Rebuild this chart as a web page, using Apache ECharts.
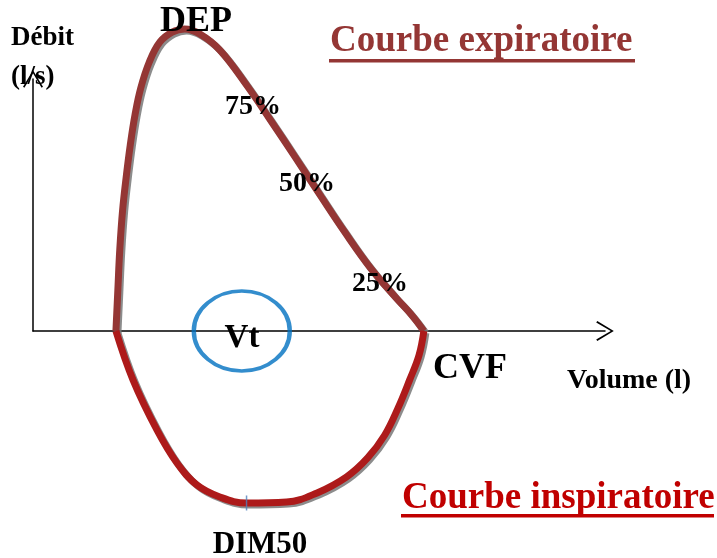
<!DOCTYPE html>
<html>
<head>
<meta charset="utf-8">
<script src="https://cdn.jsdelivr.net/npm/echarts@6/dist/echarts.min.js"></script>
<style>
  html, body { margin: 0; padding: 0; background: #fff; }
  #main { width: 717px; height: 558px; }
</style>
</head>
<body>
<div id="main"></div>
<script>
// courbe débit-volume, valeurs (volume en l, débit en l/s)
var expVolume = [0.87, 0.89, 0.91, 0.94, 0.98, 1.02, 1.07, 1.13, 1.22, 1.33, 1.46, 1.59, 1.75, 1.96, 2.24, 2.49, 2.75, 3.01, 3.27, 3.54, 3.80, 3.98, 4.10];
var expFlow   = [0, 1.30, 2.57, 3.84, 4.95, 5.90, 6.86, 7.71, 8.54, 9.17, 9.49, 9.59, 9.43, 8.92, 7.81, 6.70, 5.52, 4.32, 3.14, 2.00, 1.08, 0.48, 0];

var inspVolume = [0.87, 1.05, 1.30, 1.51, 1.72, 1.96, 2.24, 2.66, 2.98, 3.29, 3.51, 3.69, 3.83, 3.95, 4.05, 4.10];
var inspFlow   = [0, -1.56, -3.14, -4.19, -4.89, -5.27, -5.46, -5.43, -5.14, -4.63, -4.03, -3.30, -2.44, -1.56, -0.76, 0];

var vtPoint = [2.19, 0];
var dim50Point = [2.24, -5.46];

var volumeMax = 6;
var flowMax = 8;

var serif = '"Liberation Serif", "Times New Roman", serif';
var chevron = 'path://M10,0 L20,16.5 L18.6,17.6 L10,3 L1.4,17.6 L0,16.5 Z';

function zip(xs, ys) {
  return xs.map(function (x, i) { return [x, ys[i]]; });
}

function label(text, x, y, size, color, align) {
  return {
    type: 'text',
    z: 100,
    style: {
      text: text,
      x: x,
      y: y,
      font: 'bold ' + size + 'px ' + serif,
      fill: color || '#000',
      align: align || 'left',
      verticalAlign: 'middle'
    }
  };
}

var chart = echarts.init(document.getElementById('main'));
chart.setOption({
  animation: false,
  grid: { left: 33, top: 79, right: 112, bottom: 227 },
  xAxis: {
    type: 'value',
    min: 0,
    max: volumeMax,
    axisLine: {
      show: true,
      symbol: ['none', chevron],
      symbolSize: [20, 18],
      lineStyle: { color: '#000', width: 1.5 }
    },
    axisTick: { show: false },
    axisLabel: { show: false },
    splitLine: { show: false }
  },
  yAxis: {
    type: 'value',
    min: 0,
    max: flowMax,
    axisLine: {
      show: true,
      symbol: ['none', chevron],
      symbolSize: [20, 18],
      lineStyle: { color: '#000', width: 1.5 }
    },
    axisTick: { show: false },
    axisLabel: { show: false },
    splitLine: { show: false }
  },
  series: [
    {
      name: 'Courbe expiratoire',
      type: 'line',
      data: zip(expVolume, expFlow),
      smooth: 0.4,
      showSymbol: false,
      clip: false,
      z: 3,
      lineStyle: {
        color: '#943634',
        width: 7,
        shadowColor: 'rgba(120,120,120,0.85)',
        shadowOffsetX: 2,
        shadowOffsetY: 2,
        shadowBlur: 0
      }
    },
    {
      name: 'Courbe inspiratoire',
      type: 'line',
      data: zip(inspVolume, inspFlow),
      smooth: 0.4,
      showSymbol: false,
      clip: false,
      z: 3,
      lineStyle: {
        color: '#ad1a1a',
        width: 7,
        shadowColor: 'rgba(120,120,120,0.85)',
        shadowOffsetX: 2,
        shadowOffsetY: 2,
        shadowBlur: 0
      }
    },
    {
      name: 'Vt',
      type: 'scatter',
      data: [vtPoint],
      symbol: 'circle',
      symbolSize: [96, 80],
      clip: false,
      z: 4,
      itemStyle: { color: 'rgba(0,0,0,0)', borderColor: '#0070c0', borderWidth: 4 }
    },
    {
      name: 'DIM50',
      type: 'scatter',
      data: [dim50Point],
      symbol: 'rect',
      symbolSize: [1.5, 15],
      clip: false,
      z: 5,
      itemStyle: { color: '#4f81bd' }
    }
  ],
  graphic: [
    label('Débit', 11, 38, 27),
    label('(l/s)', 11, 77, 27),
    label('DEP', 160, 22, 36),
    label('Courbe expiratoire', 330, 41, 37, '#943634'),
    { type: 'rect', z: 100, shape: { x: 329, y: 59, width: 306, height: 3.5 }, style: { fill: '#943634' } },
    label('75%', 225, 107, 28),
    label('50%', 279, 184, 28),
    label('25%', 352, 284, 28),
    label('Vt', 242, 338, 33, '#000', 'center'),
    label('CVF', 433, 369, 36),
    label('Volume (l)', 567, 381, 28),
    label('Courbe inspiratoire', 402, 498, 37, '#c00000'),
    { type: 'rect', z: 100, shape: { x: 401, y: 514, width: 313, height: 3.5 }, style: { fill: '#c00000' } },
    label('DIM50', 260, 545, 31, '#000', 'center')
  ]
});
</script>
</body>
</html>
